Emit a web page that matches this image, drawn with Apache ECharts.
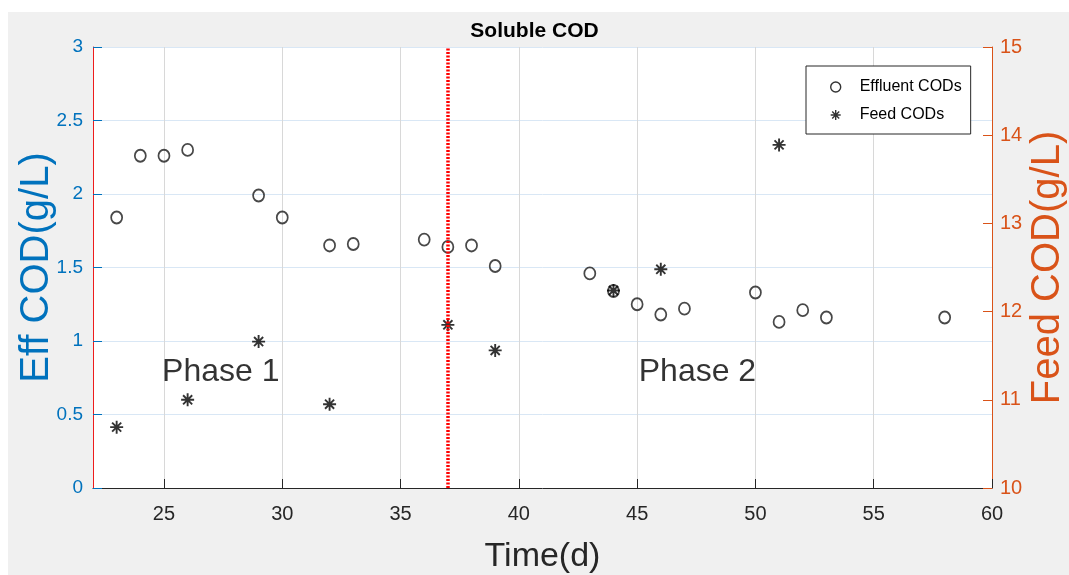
<!DOCTYPE html>
<html>
<head>
<meta charset="utf-8">
<script src="https://cdn.jsdelivr.net/npm/echarts@6/dist/echarts.min.js"></script>
<style>
  html, body { margin: 0; padding: 0; background: #ffffff; }
  #chart { width: 1069px; height: 575px; }
</style>
</head>
<body>
<div id="chart"></div>
<script>
// Soluble COD over time: effluent (left axis) and feed (right axis)
const effluentDays = [23, 24, 25, 26, 29, 30, 32, 33, 36, 37, 38, 39, 43, 44, 45, 46, 47, 50, 51, 52, 53, 58];
const effluentCOD  = [1.84, 2.26, 2.26, 2.30, 1.99, 1.84, 1.65, 1.66, 1.69, 1.64, 1.65, 1.51, 1.46, 1.34, 1.25, 1.18, 1.22, 1.33, 1.13, 1.21, 1.16, 1.16];
const feedDays = [23, 26, 29, 32, 37, 39, 44, 46, 51];
const feedCOD  = [10.69, 11.00, 11.66, 10.95, 11.85, 11.56, 12.24, 12.48, 13.89];
const xTicks = [25, 30, 35, 40, 45, 50, 55, 60];
const phaseSplitDay = 37;
const phaseNames = ['Phase 1', 'Phase 2'];
const phaseDays = [27.4, 47.55];
const phaseLevel = [0.785, 0.785];

const BLUE = '#0072BD';
const ORANGE = '#D95319';
const INK = '#262626';
const FONT = "'Liberation Sans', Arial, sans-serif";
const STAR = 'path://M5,0L5,10M0,5L10,5M1.5,1.5L8.5,8.5M1.5,8.5L8.5,1.5';

const pairs = (xs, ys) => xs.map((x, i) => [x, ys[i]]);

const chart = echarts.init(document.getElementById('chart'), null, { renderer: 'canvas' });

chart.setOption({
  animation: false,
  backgroundColor: '#ffffff',
  graphic: [{
    type: 'rect', left: 8, top: 12, z: -100, silent: true,
    shape: { width: 1061, height: 563 },
    style: { fill: '#f0f0f0' }
  }],
  title: {
    text: 'Soluble COD',
    left: 'center', top: 16,
    textStyle: { fontFamily: FONT, fontWeight: 'bold', fontSize: 21, color: '#000' }
  },
  grid: {
    left: 93, right: 77, top: 47, bottom: 87,
    outerBoundsMode: 'none',
    containLabel: false,
    show: true, backgroundColor: '#ffffff', borderWidth: 0
  },
  legend: {
    orient: 'vertical',
    left: 806, top: 66,
    padding: [13, 9, 11, 24],
    itemWidth: 10, itemHeight: 11, itemGap: 12,
    backgroundColor: '#ffffff',
    borderColor: INK, borderWidth: 1,
    textStyle: { fontFamily: FONT, fontSize: 16, color: '#000', padding: [0, 0, 0, 14] },
    data: [
      { name: 'Effluent CODs', icon: 'circle', itemStyle: { color: 'transparent', borderColor: '#000', borderWidth: 1.4 } },
      { name: 'Feed CODs', icon: STAR, itemStyle: { color: 'transparent', borderColor: '#000', borderWidth: 1.4 } }
    ]
  },
  xAxis: {
    type: 'value', min: 22, max: 60,
    name: 'Time(d)', nameLocation: 'middle', nameGap: 52,
    nameTextStyle: { fontFamily: FONT, fontSize: 34, color: INK },
    axisLine: { show: true, onZero: false, lineStyle: { color: INK, width: 1 } },
    axisTick: { show: true, inside: true, length: 9, customValues: xTicks, lineStyle: { color: INK } },
    axisLabel: { customValues: xTicks, color: INK, fontFamily: FONT, fontSize: 20, margin: 16 },
    splitLine: { show: true, lineStyle: { color: '#d8d8d8', width: 1 } }
  },
  yAxis: [{
    type: 'value', min: 0, max: 3, interval: 0.5, position: 'left',
    name: 'Eff COD(g/L)', nameLocation: 'middle', nameGap: 36, nameMoveOverlap: false,
    nameTextStyle: { fontFamily: FONT, fontSize: 40, color: BLUE },
    axisLine: { show: true, lineStyle: { color: '#ee1c1c', width: 1 } },
    axisTick: { show: true, inside: true, length: 9, lineStyle: { color: BLUE } },
    axisLabel: { color: BLUE, fontFamily: FONT, fontSize: 19, margin: 10 },
    splitLine: { show: true, lineStyle: { color: '#d9e7f5', width: 1 } }
  }, {
    type: 'value', min: 10, max: 15, interval: 1, position: 'right',
    name: 'Feed COD(g/L)', nameLocation: 'middle', nameGap: 36, nameMoveOverlap: false,
    nameTextStyle: { fontFamily: FONT, fontSize: 40, color: ORANGE },
    axisLine: { show: true, lineStyle: { color: ORANGE, width: 1 } },
    axisTick: { show: true, inside: true, length: 9, lineStyle: { color: ORANGE } },
    axisLabel: { color: ORANGE, fontFamily: FONT, fontSize: 20, margin: 8 },
    splitLine: { show: false }
  }],
  series: [{
    name: 'Effluent CODs', type: 'scatter', yAxisIndex: 0,
    data: pairs(effluentDays, effluentCOD),
    symbol: 'circle', symbolSize: [11, 12],
    itemStyle: { color: 'transparent', borderColor: '#1a1a1a', borderWidth: 1.8 },
    emphasis: { disabled: true },
    markLine: {
      silent: true, symbol: ['none', 'none'],
      label: { show: false },
      lineStyle: { color: '#ff0000', type: [2, 1.5], width: 3.5, opacity: 1 },
      data: [{ xAxis: phaseSplitDay }]
    },
    z: 3
  }, {
    name: 'Feed CODs', type: 'scatter', yAxisIndex: 1,
    data: pairs(feedDays, feedCOD),
    symbol: STAR, symbolSize: 13, symbolKeepAspect: true,
    itemStyle: { color: 'transparent', borderColor: '#000', borderWidth: 1.9 },
    emphasis: { disabled: true },
    z: 4
  }, {
    name: 'phases', type: 'scatter', yAxisIndex: 0,
    data: phaseNames.map((n, i) => ({ name: n, value: [phaseDays[i], phaseLevel[i]] })),
    symbolSize: 0, silent: true,
    label: {
      show: true, position: 'inside', formatter: '{b}',
      fontFamily: FONT, fontSize: 32, color: '#000'
    },
    emphasis: { disabled: true },
    z: 5
  }]
});
</script>
</body>
</html>
